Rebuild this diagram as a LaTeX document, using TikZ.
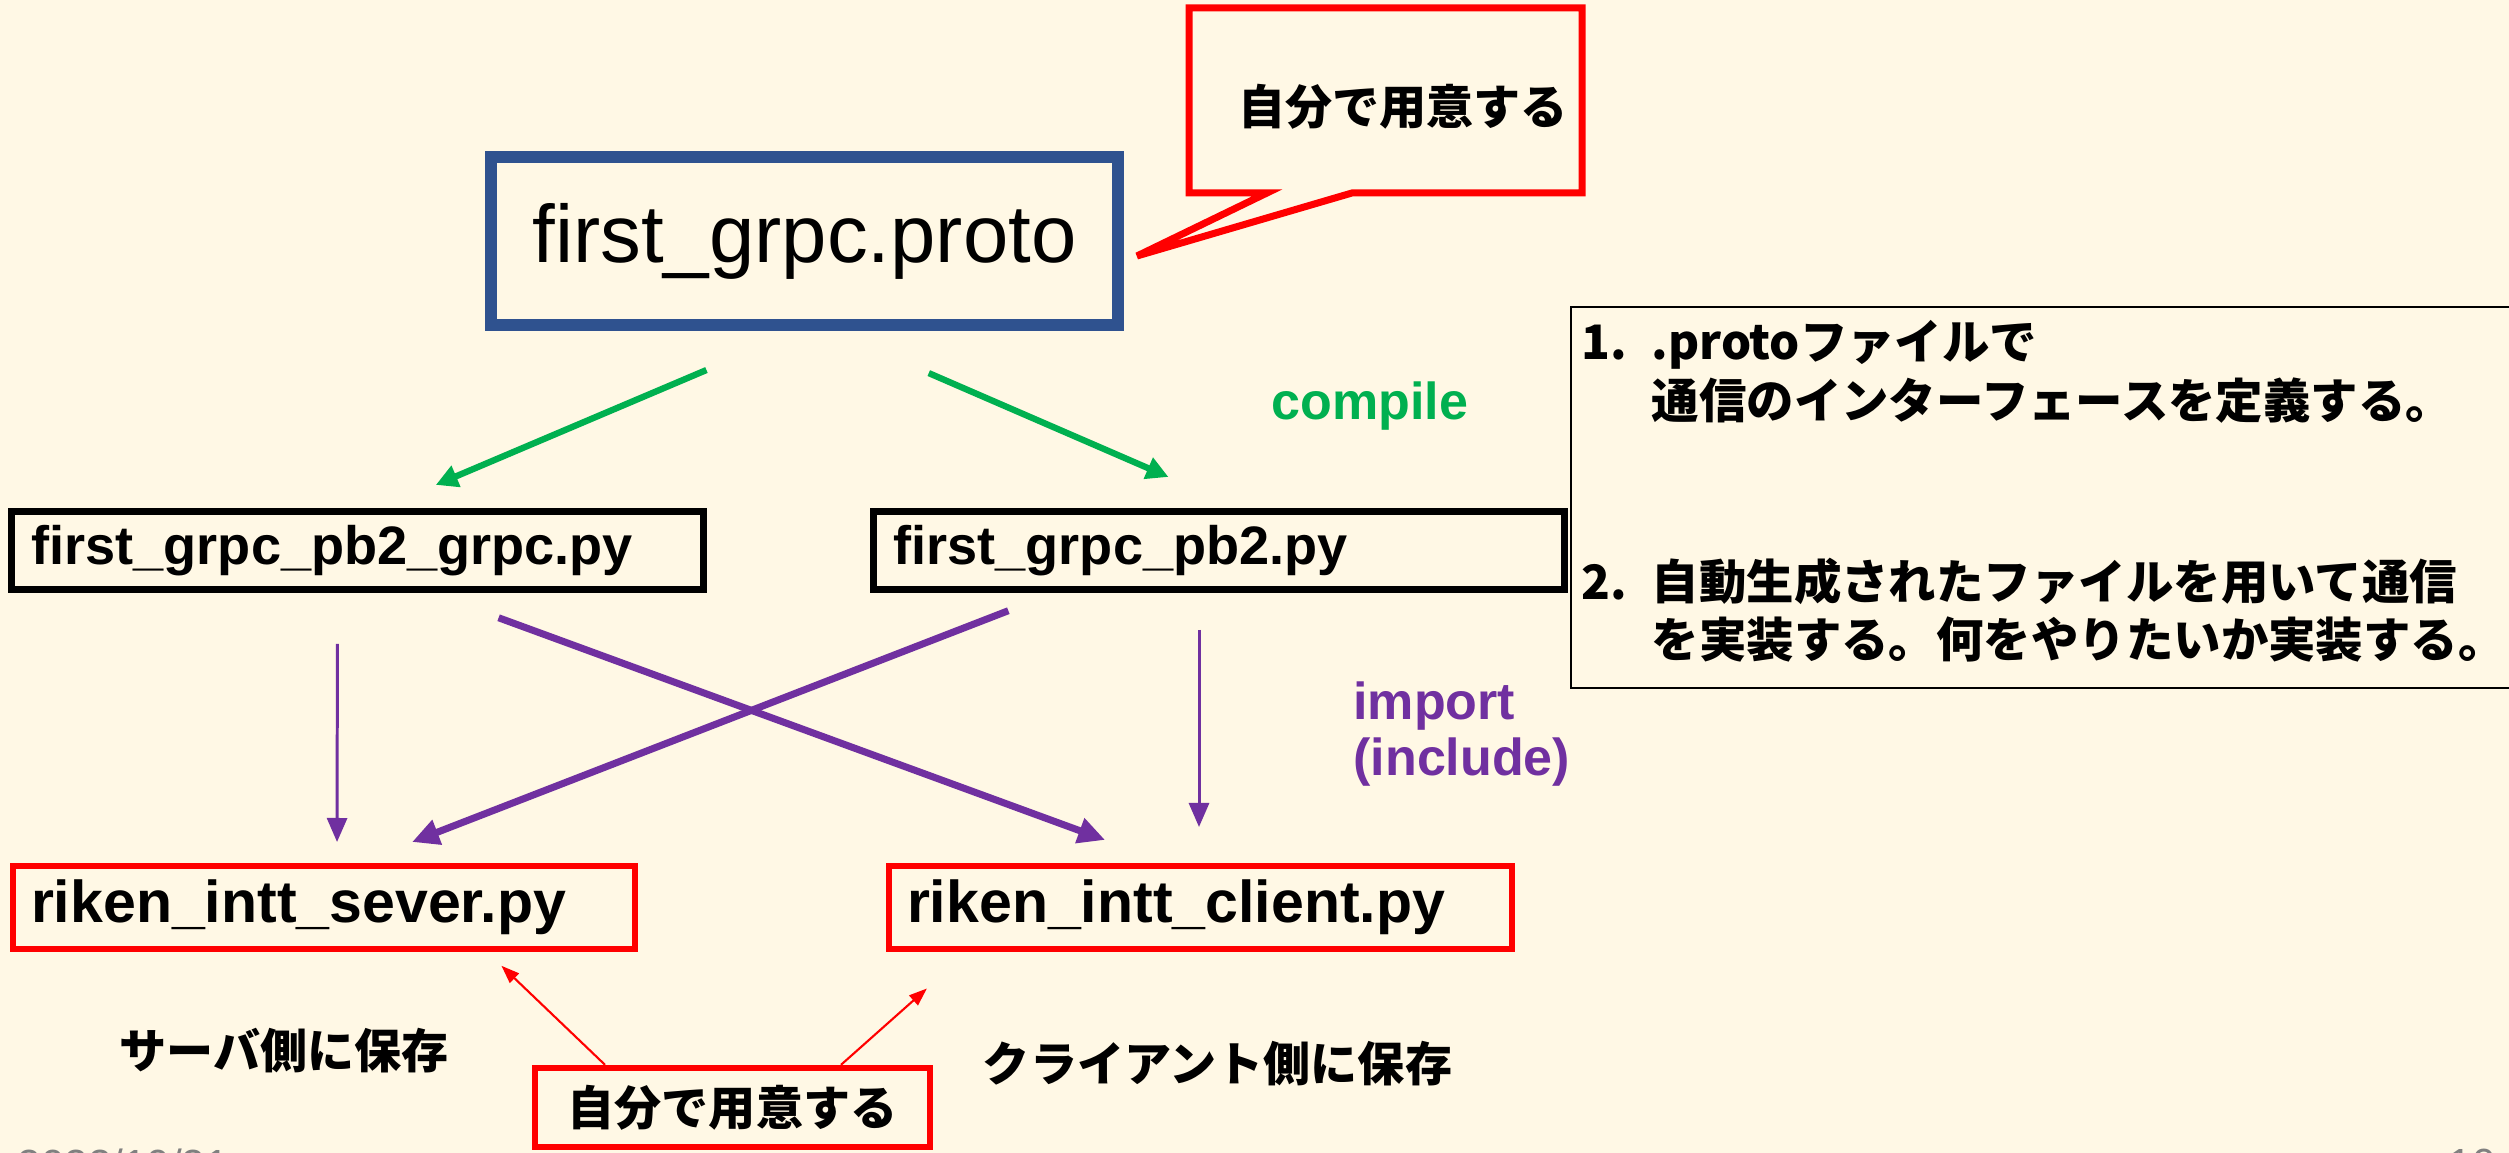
\documentclass[tikz,border=0pt]{standalone}
\usepackage{fontspec}
\setmainfont{Liberation Sans}
\newfontfamily\jp{Noto Sans CJK JP}
\usetikzlibrary{arrows.meta}
\definecolor{paper}{RGB}{255,248,229}
\definecolor{protoblue}{RGB}{47,82,143}
\definecolor{compilegreen}{RGB}{0,176,80}
\definecolor{importpurple}{RGB}{112,48,160}

\begin{document}
\begin{tikzpicture}[pyfile/.style={draw,line width=2pt,inner xsep=0.2cm,text width=6.52cm,minimum height=0.78cm,align=left,font=\bfseries\fontsize{15.4}{18}\selectfont},myfile/.style={draw=red,line width=1.7pt,inner xsep=0.18cm,text width=5.86cm,minimum height=0.83cm,align=left,font=\bfseries\fontsize{16.8}{20}\selectfont},jp/.style={font=\jp\bfseries\fontsize{13.4}{16.5}\selectfont},tag/.style={font=\bfseries\fontsize{14.8}{15.9}\selectfont},gen/.style={-{Triangle[length=0.22cm,width=0.22cm]},compilegreen,line width=1.8pt},use/.style={-{Triangle[length=0.24cm,width=0.2cm]},importpurple,line width=0.85pt},usex/.style={-{Triangle[length=0.27cm,width=0.25cm]},importpurple,line width=2pt},own/.style={-{Triangle[length=0.18cm,width=0.13cm]},red,line width=0.6pt}]
\path[use as bounding box,fill=paper] (0,0) rectangle (25.09,11.53);
\node[draw=protoblue,line width=3.4pt,minimum width=6.27cm,minimum height=1.68cm,font=\fontsize{23.2}{27}\selectfont] (proto) at (8.045,9.12) {first\_grpc.proto};
\draw[red,line width=2pt] (11.89,9.60) -- (11.89,11.45) -- (15.82,11.45) -- (15.82,9.60) -- (13.52,9.60) -- (11.37,8.97) -- (12.67,9.60) -- cycle;
\node[jp] (ownnote) at (14.03,10.46) {自分で用意する};
\node[pyfile] (grpc) at (3.575,6.025) {first\_grpc\_pb2\_grpc.py};
\node[pyfile,text width=6.51cm] (pb2) at (12.19,6.025) {first\_grpc\_pb2.py};
\node[myfile] (sever) at (3.24,2.455) {riken\_intt\_sever.py};
\node[myfile,text width=5.87cm] (client) at (12.005,2.455) {riken\_intt\_client.py};
\node[draw=red,line width=1.8pt,minimum width=3.95cm,minimum height=0.79cm,jp] (mine) at (7.325,0.455) {自分で用意する};
\node[tag,text=compilegreen] (compile) at (13.70,7.47) {compile};
\node[tag,text=importpurple,align=left,anchor=west] (import) at (13.41,4.19) {import\\(include)};
\node[jp] (severnote) at (2.84,1.02) {サーバ側に保存};
\node[jp] (clientnote) at (12.175,0.89) {クライアント側に保存};
\node[anchor=north west,inner xsep=0.1cm,text width=9.0cm,minimum height=3.68cm,align=left,jp,font=\jp\bfseries\fontsize{13.5}{16.5}\selectfont] (steps) at (15.71,8.46) {\begin{tabular}{@{}p{0.7cm}@{}l@{}}1.&.protoファイルで\\&通信のインターフェースを定義する。\\[35pt]2.&自動生成されたファイルを用いて通信\\&を実装する。何をやりたいか実装する。\end{tabular}};
\draw[line width=0.7pt] ([xshift=1cm]steps.north east) -- (steps.north west) -- (steps.south west) -- ([xshift=1cm]steps.south east);
\node[anchor=north west,inner sep=0pt,text=gray,font=\fontsize{12}{14}\selectfont] (date) at (0.17,0.05) {2022/10/21};
\node[anchor=north west,inner sep=0pt,text=gray,font=\fontsize{12}{14}\selectfont] (page) at (24.48,0.05) {10};
\draw[gen,shorten <=1.0cm,shorten >=0.59cm] ([xshift=-0.06cm]proto.south) -- ([xshift=0.24cm]grpc.north);
\draw[gen,shorten <=1.06cm,shorten >=0.78cm] ([xshift=0.27cm]proto.south) -- ([xshift=0.21cm]pb2.north);
\draw[use,shorten <=0.51cm,shorten >=0.21cm] ([xshift=-0.2cm]grpc.south) -- ([xshift=0.13cm]sever.north);
\draw[use,shorten <=0.37cm,shorten >=0.36cm] ([xshift=-0.2cm]pb2.south) -- ([xshift=-0.015cm]client.north);
\draw[usex,shorten <=0.72cm,shorten >=0.67cm] ([xshift=0.735cm]grpc.south) -- ([xshift=-0.325cm]client.north);
\draw[usex,shorten <=0.49cm,shorten >=0.58cm] ([xshift=-1.65cm]pb2.south) -- ([xshift=0.34cm]sever.north);
\draw[own,shorten >=0.2cm] ([xshift=-1.275cm]mine.north) -- ([xshift=1.63cm]sever.south);
\draw[own,shorten >=0.55cm] ([xshift=1.085cm]mine.north) -- ([xshift=-2.325cm]client.south);
\end{tikzpicture}
\end{document}
